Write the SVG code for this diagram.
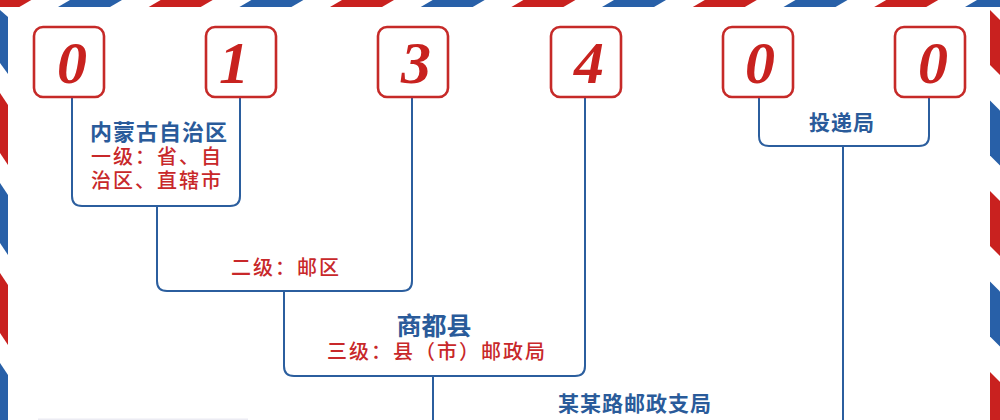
<svg xmlns="http://www.w3.org/2000/svg" width="1000" height="420" viewBox="0 0 1000 420">
<style>
.r{fill:#c9211f}
.b{fill:#2860a8}
.box{fill:#fff;stroke:#c62a28;stroke-width:2.6}
.digit{font-family:"Liberation Serif","DejaVu Serif",serif;font-style:italic;font-weight:bold;font-size:60px;fill:#c8221f;text-anchor:middle}
.con{fill:none;stroke:#2b5e9e;stroke-width:2}
.t{font-family:"Noto Sans CJK SC",sans-serif;font-weight:bold;fill:#2a5b9a;text-anchor:middle}
.s{font-family:"Noto Sans CJK SC",sans-serif;font-weight:500;font-size:20px;fill:#c8282a;text-anchor:middle;letter-spacing:2px}
</style>
<rect width="1000" height="420" fill="#fff"/>
<g id="border">
<polygon class="r" points="-32.7,7 19.3,7 31.3,0 -20.7,0"/>
<polygon class="b" points="58,7 110,7 122,0 70,0"/>
<polygon class="r" points="148.7,7 200.7,7 212.7,0 160.7,0"/>
<polygon class="b" points="239.4,7 291.4,7 303.4,0 251.4,0"/>
<polygon class="r" points="330,7 382,7 394,0 342,0"/>
<polygon class="b" points="420.7,7 472.7,7 484.7,0 432.7,0"/>
<polygon class="r" points="511.4,7 563.4,7 575.4,0 523.4,0"/>
<polygon class="b" points="602,7 654,7 666,0 614,0"/>
<polygon class="r" points="692.8,7 744.8,7 756.8,0 704.8,0"/>
<polygon class="b" points="783.5,7 835.5,7 847.5,0 795.5,0"/>
<polygon class="r" points="874.2,7 926.2,7 938.2,0 886.2,0"/>
<polygon class="b" points="965,7 1017,7 1029,0 977,0"/>
<polygon class="b" points="0,10 8,17 8,74 0,63"/>
<polygon class="r" points="0,93 8,105 8,165 0,153"/>
<polygon class="b" points="0,183 8,195 8,255 0,243"/>
<polygon class="r" points="0,273 8,285 8,345 0,333"/>
<polygon class="b" points="0,363 8,375 8,435 0,423"/>
<polygon class="r" points="990,10 1000,20 1000,75 990,65"/>
<polygon class="b" points="990,100.5 1000,110.5 1000,165.5 990,155.5"/>
<polygon class="r" points="990,191 1000,201 1000,256 990,246"/>
<polygon class="b" points="990,281.5 1000,291.5 1000,346.5 990,336.5"/>
<polygon class="r" points="990,372 1000,382 1000,437 990,427"/>
</g>
<g id="connectors">
<path class="con" d="M72,98 V196 Q72,206 82,206 H230 Q240,206 240,196 V98"/>
<path class="con" d="M157,206 V281 Q157,291 167,291 H402 Q412,291 412,281 V98"/>
<path class="con" d="M284,291 V366 Q284,376 294,376 H575 Q585,376 585,366 V98"/>
<path class="con" d="M433,376 V420"/>
<path class="con" d="M759,98 V136 Q759,146 769,146 H919 Q929,146 929,136 V98"/>
<path class="con" d="M843,146 V420"/>
</g>
<g id="digit0"><rect class="box" x="34" y="27" width="70" height="70" rx="9"/><text class="digit" x="72" y="83">0</text></g>
<g id="digit1"><rect class="box" x="206" y="27" width="70" height="70" rx="9"/><text class="digit" x="234" y="83">1</text></g>
<g id="digit2"><rect class="box" x="378" y="27" width="70" height="70" rx="9"/><text class="digit" x="416" y="83">3</text></g>
<g id="digit3"><rect class="box" x="551" y="27" width="70" height="70" rx="9"/><text class="digit" x="589" y="83">4</text></g>
<g id="digit4"><rect class="box" x="723" y="27" width="70" height="70" rx="9"/><text class="digit" x="760" y="83">0</text></g>
<g id="digit5"><rect class="box" x="895" y="27" width="70" height="70" rx="9"/><text class="digit" x="933" y="83">0</text></g>
<g id="level1">
<text class="t" x="159" y="140" font-size="22" letter-spacing="1">内蒙古自治区</text>
<text class="s" x="157" y="164">一级：省、自</text>
<text class="s" x="157" y="188">治区、直辖市</text>
</g>
<g id="level2"><text class="s" x="286" y="275">二级：邮区</text></g>
<g id="level3">
<text class="t" x="434" y="335" font-size="25">商都县</text>
<text class="s" x="437" y="359">三级：县（市）邮政局</text>
</g>
<g id="level4"><text class="t" x="635" y="411" font-size="21" letter-spacing="1">某某路邮政支局</text></g>
<g id="delivery"><text class="t" x="842" y="130" font-size="21" letter-spacing="1">投递局</text></g>
<path d="M38,419.5 H248" stroke="#ececf3" stroke-width="2" fill="none"/>
</svg>
